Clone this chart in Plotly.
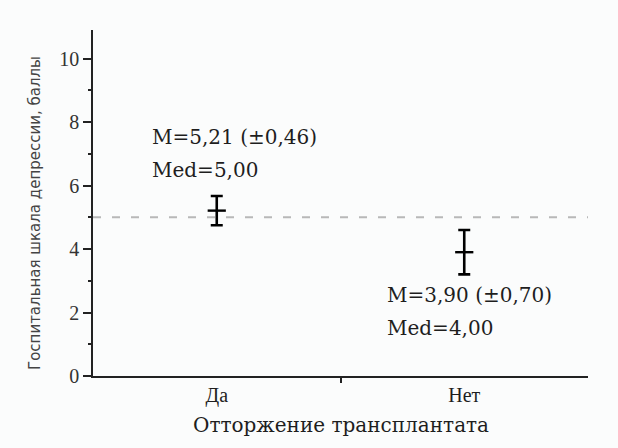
import plotly.graph_objects as go

# ---- data ----
categories = ["Да", "Нет"]
means = [5.21, 3.90]
errors = [0.46, 0.70]
medians = [5.00, 4.00]
ref_value = 5
y_ticks = [0, 2, 4, 6, 8, 10]

x_pos = [1, 2]

def fmt(v):
    return f"{v:.2f}".replace(".", ",")

SERIF = "DejaVu Serif"
TSERIF = "Liberation Serif"
TXT = "#1e1e1e"

fig = go.Figure()

fig.add_hline(y=ref_value, line=dict(color="#b8b8b8", width=2, dash="8px,11px"))

fig.add_trace(go.Scatter(
    x=x_pos, y=means, mode="markers",
    marker=dict(symbol="line-ew", size=13, color="black", line=dict(color="black", width=2.4)),
    error_y=dict(type="data", array=errors, visible=True, color="black", thickness=2.6, width=6),
    showlegend=False, hoverinfo="skip",
))

# text annotations (positions relative to each category)
layout_txt = [
    dict(xshift=-67, y1=7.54, y2=6.50),
    dict(xshift=-79, y1=2.56, y2=1.51),
]
for xp, m, e, md, p in zip(x_pos, means, errors, medians, layout_txt):
    fig.add_annotation(x=xp, y=p["y1"], xref="x", yref="y", xanchor="left", yanchor="middle",
                       xshift=p["xshift"], showarrow=False,
                       text=f"M={fmt(m)} (±{fmt(e)})", font=dict(family=SERIF, size=20, color=TXT))
    fig.add_annotation(x=xp, y=p["y2"], xref="x", yref="y", xanchor="left", yanchor="middle",
                       xshift=p["xshift"], showarrow=False,
                       text=f"Med={fmt(md)}", font=dict(family=SERIF, size=20, color=TXT))

# axis titles
fig.add_annotation(text="Отторжение трансплантата", xref="paper", yref="paper",
                   x=0.5, y=0, yanchor="middle", yshift=-49, showarrow=False,
                   font=dict(family=SERIF, size=20, color=TXT))
fig.add_annotation(text="Госпитальная шкала депрессии, баллы", xref="paper", yref="paper",
                   x=0, y=0.5, xanchor="center", yanchor="middle", xshift=-58, yshift=-10,
                   textangle=-90, showarrow=False,
                   font=dict(family="DejaVu Sans", size=15, color="#444"))

fig.update_layout(
    width=618, height=448,
    margin=dict(l=93, r=30, t=30, b=72),
    paper_bgcolor="#fbfcfc", plot_bgcolor="#fbfcfc",
    xaxis=dict(
        range=[0.5, 2.5], tickvals=x_pos, ticktext=categories,
        ticks="", showgrid=False, zeroline=False,
        showline=True, linecolor="#222", linewidth=1.5,
        tickfont=dict(family=TSERIF, size=20, color=TXT),
        minor=dict(tickvals=[1.5], ticks="outside", ticklen=5, tickcolor="#222", tickwidth=1.5),
    ),
    yaxis=dict(
        range=[0, 10.9], tickvals=y_ticks,
        ticks="outside", ticklen=8, tickwidth=1.5, tickcolor="#222",
        showgrid=False, zeroline=False,
        showline=True, linecolor="#222", linewidth=1.5,
        tickfont=dict(family=TSERIF, size=20, color="#333"),
        minor=dict(dtick=1, tick0=0, ticks="outside", ticklen=3, tickcolor="#222", tickwidth=1.5),
    ),
)

fig.write_html("out.html")
